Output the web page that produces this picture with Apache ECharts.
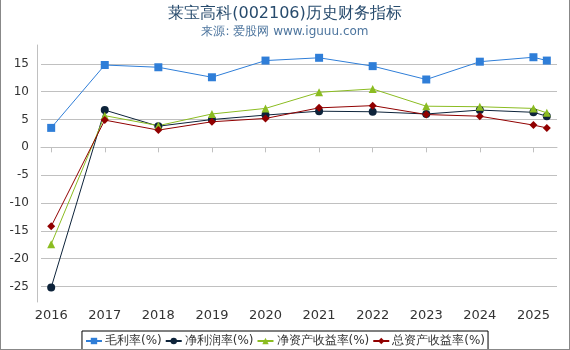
<!DOCTYPE html>
<html>
<head>
<meta charset="utf-8">
<script src="https://cdn.jsdelivr.net/npm/echarts@6/dist/echarts.min.js"></script>
<style>
  html, body { margin: 0; padding: 0; background: #fff; }
  #main { width: 570px; height: 350px; box-sizing: border-box; border: 1px solid #888; border-top: none; }
</style>
</head>
<body>
<div id="main"></div>
<script>
var years = [2016, 2017, 2018, 2019, 2020, 2021, 2022, 2023, 2024, 2025, 2025.25];
var yearTicks = [2016, 2017, 2018, 2019, 2020, 2021, 2022, 2023, 2024, 2025];
var yTicks = [-25, -20, -15, -10, -5, 0, 5, 10, 15];

var grossMargin = [3.5, 14.8, 14.4, 12.6, 15.6, 16.1, 14.6, 12.2, 15.4, 16.2, 15.6];
var netMargin = [-25.2, 6.7, 3.8, 5.0, 5.8, 6.5, 6.4, 6.0, 6.7, 6.3, 5.6];
var roe = [-17.4, 5.7, 3.9, 6.0, 7.0, 9.9, 10.5, 7.4, 7.3, 7.0, 6.2];
var roa = [-14.2, 4.9, 3.1, 4.6, 5.2, 7.1, 7.5, 5.9, 5.6, 4.0, 3.5];

var names = ["毛利率(%)", "净利润率(%)", "净资产收益率(%)", "总资产收益率(%)"];
var colors = ["#2f7ed8", "#0d233a", "#8bbc21", "#910000"];
var symbols = ["rect", "circle", "triangle", "diamond"];

function pairs(vals) {
  return vals.map(function (v, i) { return [years[i], v]; });
}

var chart = echarts.init(document.getElementById("main"));
var option = {
  animation: false,
  title: {
    text: "莱宝高科(002106)历史财务指标",
    subtext: "来源: 爱股网 www.iguuu.com",
    left: "center",
    top: 1,
    itemGap: 4,
    textStyle: { fontSize: 16, fontWeight: "normal", color: "#274b6d", fontFamily: "DejaVu Sans" },
    subtextStyle: { fontSize: 12, color: "#4d759e", fontFamily: "DejaVu Sans" }
  },
  legend: {
    bottom: -2,
    left: "center",
    borderColor: "#000",
    borderWidth: 1,
    borderRadius: 0,
    padding: [4, 3, 4, 3],
    itemGap: 3,
    itemWidth: 16,
    itemHeight: 8,
    textStyle: { fontSize: 12, color: "#333", fontFamily: "DejaVu Sans", padding: [0, 0, 0, -2] },
    data: names
  },
  grid: { left: 40, right: 12, top: 45, bottom: 47 },
  xAxis: {
    type: "value",
    min: 2015.81,
    max: 2025.44,
    axisLine: { show: true, lineStyle: { color: "#c0c0c0" } },
    axisTick: { show: true, length: 5, lineStyle: { color: "#c0c0c0" }, customValues: yearTicks },
    axisLabel: { color: "#333", fontSize: 13, fontFamily: "DejaVu Sans", margin: 7, customValues: yearTicks,
      formatter: function (v) { return String(v); } },
    splitLine: { show: false }
  },
  yAxis: {
    type: "value",
    min: -27.8,
    max: 18.4,
    offset: 4,
    axisLine: { show: true, lineStyle: { color: "#c0c0c0" } },
    axisTick: { show: false, customValues: yTicks },
    axisLabel: { color: "#333", fontSize: 12, fontFamily: "DejaVu Sans", margin: 8, customValues: yTicks },
    splitLine: { show: true, lineStyle: { color: "#c0c0c0" } }
  },
  series: [grossMargin, netMargin, roe, roa].map(function (vals, i) {
    return {
      name: names[i],
      type: "line",
      data: pairs(vals),
      symbol: symbols[i],
      symbolSize: 8,
      showAllSymbol: true,
      color: colors[i],
      lineStyle: { width: 1, color: colors[i] },
      itemStyle: { color: colors[i] }
    };
  })
};
chart.setOption(option);
</script>
</body>
</html>
